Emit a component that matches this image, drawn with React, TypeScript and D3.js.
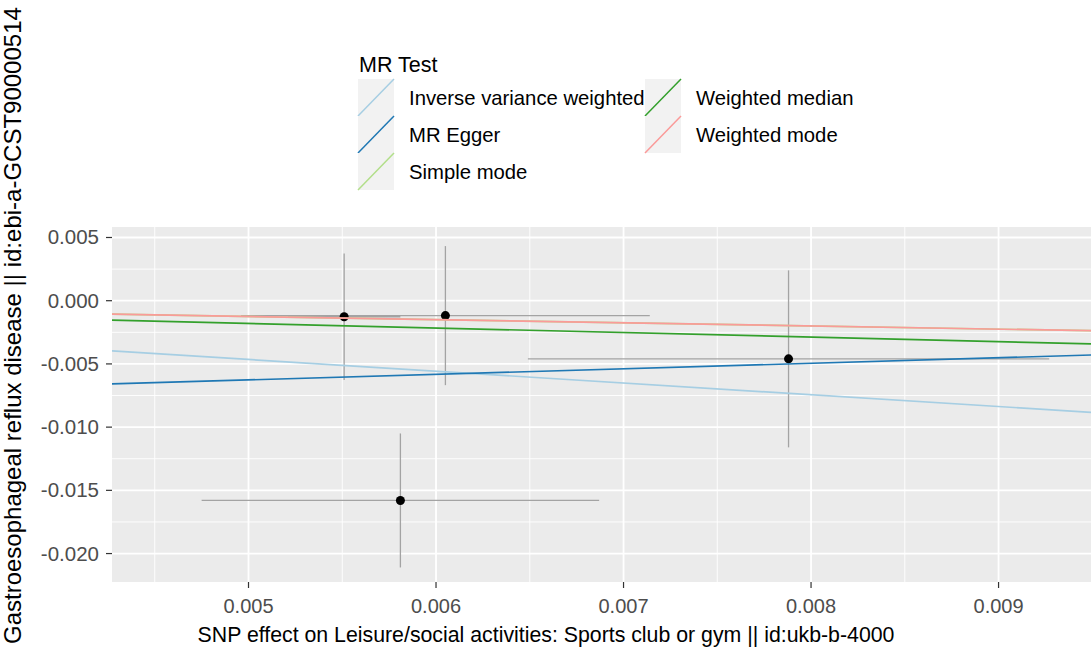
import React from "react";
import * as d3 from "d3";

// SNP-level data (exposure / outcome effects and standard errors)
const exposureBeta = [0.00551, 0.00605, 0.00788, 0.00581];
const exposureSe = [0.0003, 0.00109, 0.00139, 0.00106];
const outcomeBeta = [-0.00127, -0.00118, -0.0046, -0.0158];
const outcomeSe = [0.005, 0.0055, 0.007, 0.0053];

// MR methods: regression lines
const methods = [
  "Inverse variance weighted",
  "MR Egger",
  "Simple mode",
  "Weighted median",
  "Weighted mode",
];
const methodColors = ["#a6cee3", "#1f78b4", "#b2df8a", "#33a02c", "#fb9a99"];
const methodIntercepts = [0, -0.00846, 0, 0, 0];
const methodSlopes = [-0.93, 0.4386, -0.25, -0.36, -0.25];

// Axis ticks
const xTicks = [0.005, 0.006, 0.007, 0.008, 0.009];
const yTicks = [0.005, 0.0, -0.005, -0.01, -0.015, -0.02];
const xTickLabels = ["0.005", "0.006", "0.007", "0.008", "0.009"];
const yTickLabels = ["0.005", "0.000", "-0.005", "-0.010", "-0.015", "-0.020"];

const xTitle = "SNP effect on Leisure/social activities: Sports club or gym || id:ukb-b-4000";
const yTitle = "Gastroesophageal reflux disease || id:ebi-a-GCST90000514";
const legendTitle = "MR Test";

const W = 1091;
const H = 655;
const FONT = "'Liberation Sans', Arial, sans-serif";

export default function App() {
  const panel = { left: 112, right: 1091, top: 227, bottom: 582 };
  const x = d3.scaleLinear().domain([0.004272, 0.009493]).range([panel.left, panel.right]);
  const y = d3.scaleLinear().domain([0.00583, -0.02225]).range([panel.top, panel.bottom]);

  const [x0, x1] = x.domain();
  const [yTop, yBot] = y.domain();

  const xStep = xTicks[1] - xTicks[0];
  const yStep = yTicks[0] - yTicks[1];
  const xMinor: number[] = [];
  for (let v = xTicks[0] - xStep / 2; v <= x1; v += xStep) if (v >= x0) xMinor.push(v);
  const yMinor: number[] = [];
  for (let v = yTicks[0] + yStep / 2; v >= yBot; v -= yStep) if (v <= yTop) yMinor.push(v);

  const lineGen = d3
    .line<[number, number]>()
    .x((d) => x(d[0]))
    .y((d) => y(d[1]));

  const legendRows = 3;
  const keyW = 36;
  const keyH = 37;
  const legendX = [358, 645];
  const legendTop = 79;

  return (
    <svg
      width={W}
      height={H}
      style={{ position: "absolute", left: 0, top: 0, background: "#fff" }}
      fontFamily={FONT}
    >
      <defs>
        <clipPath id="panelClip">
          <rect x={panel.left} y={panel.top} width={panel.right - panel.left} height={panel.bottom - panel.top} />
        </clipPath>
      </defs>
      <rect width={W} height={H} fill="#fff" />
      {/* panel */}
      <rect
        x={panel.left}
        y={panel.top}
        width={panel.right - panel.left}
        height={panel.bottom - panel.top}
        fill="#EBEBEB"
      />
      <g clipPath="url(#panelClip)">
        {yMinor.map((v, i) => (
          <line key={"ym" + i} x1={panel.left} x2={panel.right} y1={y(v)} y2={y(v)} stroke="#fff" strokeWidth={0.9} />
        ))}
        {xMinor.map((v, i) => (
          <line key={"xm" + i} y1={panel.top} y2={panel.bottom} x1={x(v)} x2={x(v)} stroke="#fff" strokeWidth={0.9} />
        ))}
        {yTicks.map((v, i) => (
          <line key={"yM" + i} x1={panel.left} x2={panel.right} y1={y(v)} y2={y(v)} stroke="#fff" strokeWidth={1.8} />
        ))}
        {xTicks.map((v, i) => (
          <line key={"xM" + i} y1={panel.top} y2={panel.bottom} x1={x(v)} x2={x(v)} stroke="#fff" strokeWidth={1.8} />
        ))}
        {/* vertical error bars */}
        {exposureBeta.map((bx, i) => (
          <line
            key={"ev" + i}
            x1={x(bx)}
            x2={x(bx)}
            y1={y(outcomeBeta[i] + outcomeSe[i])}
            y2={y(outcomeBeta[i] - outcomeSe[i])}
            stroke="#a3a3a3"
            strokeWidth={1.3}
          />
        ))}
        {/* horizontal error bars */}
        {exposureBeta.map((bx, i) => (
          <line
            key={"eh" + i}
            x1={x(bx - exposureSe[i])}
            x2={x(bx + exposureSe[i])}
            y1={y(outcomeBeta[i])}
            y2={y(outcomeBeta[i])}
            stroke="#a3a3a3"
            strokeWidth={1.3}
          />
        ))}
        {exposureBeta.map((bx, i) => (
          <circle key={"pt" + i} cx={x(bx)} cy={y(outcomeBeta[i])} r={4.5} fill="#000" />
        ))}
        {methods.map((m, i) => (
          <path
            key={m}
            d={
              lineGen([
                [x0, methodIntercepts[i] + methodSlopes[i] * x0],
                [x1, methodIntercepts[i] + methodSlopes[i] * x1],
              ]) || ""
            }
            stroke={methodColors[i]}
            strokeWidth={1.7}
            fill="none"
          />
        ))}
      </g>
      {/* y axis */}
      {yTicks.map((v, i) => (
        <g key={"yt" + i}>
          <line x1={panel.left - 6} x2={panel.left} y1={y(v)} y2={y(v)} stroke="#333" strokeWidth={1.2} />
          <text x={panel.left - 13} y={y(v) + 7} textAnchor="end" fontSize={20.5} fill="#4D4D4D">
            {yTickLabels[i]}
          </text>
        </g>
      ))}
      {/* x axis */}
      {xTicks.map((v, i) => (
        <g key={"xt" + i}>
          <line x1={x(v)} x2={x(v)} y1={panel.bottom} y2={panel.bottom + 6} stroke="#333" strokeWidth={1.2} />
          <text x={x(v)} y={panel.bottom + 31} textAnchor="middle" fontSize={20} fill="#4D4D4D">
            {xTickLabels[i]}
          </text>
        </g>
      ))}
      <text x={546} y={642} textAnchor="middle" fontSize={21.3} fill="#000">
        {xTitle}
      </text>
      <text transform={`translate(21,644) rotate(-90)`} textAnchor="start" fontSize={24} fill="#000">
        {yTitle}
      </text>
      {/* legend */}
      <text x={359} y={72} fontSize={21.5} fill="#000">
        {legendTitle}
      </text>
      {methods.map((m, i) => {
        const col = Math.floor(i / legendRows);
        const row = i % legendRows;
        const kx = legendX[col];
        const ky = legendTop + row * keyH;
        return (
          <g key={"lg" + i}>
            <rect x={kx} y={ky} width={keyW} height={keyH} fill="#F2F2F2" />
            <line x1={kx} y1={ky + keyH} x2={kx + keyW} y2={ky} stroke={methodColors[i]} strokeWidth={1.5} />
            <text x={kx + 51} y={ky + keyH / 2 + 7} fontSize={20.3} fill="#000">
              {m}
            </text>
          </g>
        );
      })}
    </svg>
  );
}
